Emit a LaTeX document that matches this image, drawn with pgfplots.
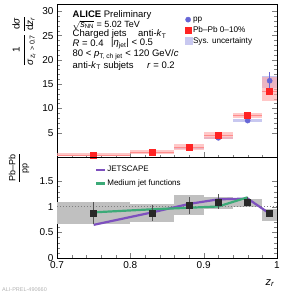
\documentclass[border=0pt]{standalone}
\usepackage{fontspec}
\setmainfont{Liberation Sans}
\usepackage{pgfplots}
\pgfplotsset{compat=1.18}
\definecolor{ppblue}{RGB}{102,102,214}
\definecolor{pbred}{RGB}{255,35,35}
\definecolor{redsys}{RGB}{255,170,170}
\definecolor{redbar}{RGB}{255,140,140}
\definecolor{bluesys}{RGB}{200,200,240}
\definecolor{graysys}{RGB}{192,192,192}
\definecolor{ptblack}{RGB}{40,40,40}
\definecolor{jspurple}{RGB}{125,80,190}
\definecolor{mjgreen}{RGB}{60,170,120}
\begin{document}
\begin{tikzpicture}[x=1pt,y=1pt]
\useasboundingbox (0,0) rectangle (284,293);
% ---------------- top panel ----------------
\begin{axis}[name=top, at={(57pt,136pt)}, anchor=south west, scale only axis,
  width=220pt, height=153pt, xmin=0.7, xmax=1, ymin=0, ymax=31.5,
  xtick={0.7,0.8,0.9,1}, xticklabels={}, minor x tick num=4,
  ytick={5,10,15,20,25,30}, minor y tick num=4,
  tick align=inside, xtick pos=bottom, ytick pos=both, yticklabel pos=left,
  major tick length=5pt, minor tick length=2.5pt,
  tick label style={font=\fontsize{10}{12}\selectfont},
  /pgf/number format/assume math mode=true,
  axis line style={line width=0.6pt},
  legend style={at={(0.58,0.925)}, anchor=north west, draw=none, fill=none,
    font=\fontsize{8.2}{9.5}\selectfont, row sep=1.6pt, inner sep=0pt,
    nodes={inner sep=1pt}},
  legend cell align=left,
  legend image code/.code={\draw[#1] plot coordinates {(0.15cm,0cm)};},
]
% pp systematic boxes
\addplot[fill=bluesys, draw=none, forget plot] coordinates {(0.70,0.30) (0.80,0.30) (0.80,0.50) (0.70,0.50)} -- cycle;
\addplot[fill=bluesys, draw=none, forget plot] coordinates {(0.80,0.75) (0.86,0.75) (0.86,1.05) (0.80,1.05)} -- cycle;
\addplot[fill=bluesys, draw=none, forget plot] coordinates {(0.86,1.70) (0.90,1.70) (0.90,2.00) (0.86,2.00)} -- cycle;
\addplot[fill=bluesys, draw=none, forget plot] coordinates {(0.90,3.70) (0.94,3.70) (0.94,4.20) (0.90,4.20)} -- cycle;
\addplot[fill=bluesys, draw=none, forget plot] coordinates {(0.94,7.20) (0.98,7.20) (0.98,7.80) (0.94,7.80)} -- cycle;
\addplot[fill=bluesys, draw=none, forget plot] coordinates {(0.98,14.2) (1.00,14.2) (1.00,16.6) (0.98,16.6)} -- cycle;
% Pb-Pb systematic boxes
\addplot[fill=redsys, fill opacity=0.65, draw=none, forget plot] coordinates {(0.70,0.20) (0.80,0.20) (0.80,0.75) (0.70,0.75)} -- cycle;
\addplot[fill=redsys, fill opacity=0.65, draw=none, forget plot] coordinates {(0.80,0.62) (0.86,0.62) (0.86,1.35) (0.80,1.35)} -- cycle;
\addplot[fill=redsys, fill opacity=0.65, draw=none, forget plot] coordinates {(0.86,1.50) (0.90,1.50) (0.90,2.65) (0.86,2.65)} -- cycle;
\addplot[fill=redsys, fill opacity=0.65, draw=none, forget plot] coordinates {(0.90,3.80) (0.94,3.80) (0.94,5.15) (0.90,5.15)} -- cycle;
\addplot[fill=redsys, fill opacity=0.65, draw=none, forget plot] coordinates {(0.94,8.10) (0.98,8.10) (0.98,9.15) (0.94,9.15)} -- cycle;
\addplot[fill=redsys, fill opacity=0.65, draw=none, forget plot] coordinates {(0.98,11.5) (1.00,11.5) (1.00,16.4) (0.98,16.4)} -- cycle;
% pp points
\addplot[only marks, mark=*, mark size=2.6pt, color=ppblue,
  error bars/.cd, y dir=both, y explicit, error mark=none,
  error bar style={line width=0.8pt, color=ppblue}]
  coordinates {(0.75,0.40) +- (0,0.05) (0.83,0.90) +- (0,0.08) (0.88,1.85) +- (0,0.12)
               (0.92,3.95) +- (0,0.2) (0.96,7.50) +- (0,0.35) (0.99,15.7) +- (0,1.7)};
\addlegendentry{pp}
% Pb-Pb points
\addplot[only marks, mark=square*, mark size=3pt, color=pbred,
  error bars/.cd, x dir=both, x explicit, y dir=both, y explicit, error mark=none,
  error bar style={line width=0.6pt, color=redbar}]
  coordinates {(0.75,0.45) +- (0.05,0.05) (0.83,0.95) +- (0.03,0.08) (0.88,2.05) +- (0.02,0.12)
               (0.92,4.45) +- (0.02,0.2) (0.96,8.60) +- (0.02,0.3) (0.99,13.6) +- (0.01,0.4)};
\addlegendentry{Pb\textendash Pb 0\textendash 10\%}
\addlegendimage{legend image code/.code={\fill[bluesys] (0.04cm,-0.12cm) rectangle (0.28cm,0.12cm);}}
\addlegendentry{Sys. uncertainty}
\end{axis}
% ---------------- bottom panel ----------------
\begin{axis}[name=bot, at={(57pt,35pt)}, anchor=south west, scale only axis,
  width=220pt, height=101pt, xmin=0.7, xmax=1, ymin=0, ymax=1.98,
  xtick={0.7,0.8,0.9,1}, xticklabels={0.7,0.8,0.9,1}, minor x tick num=4,
  ytick={0,0.5,1,1.5}, yticklabels={0,0.5,1,1.5}, minor y tick num=4,
  tick align=inside, xtick pos=bottom, ytick pos=both, yticklabel pos=left,
  major tick length=5pt, minor tick length=2.5pt,
  tick label style={font=\fontsize{10}{12}\selectfont},
  /pgf/number format/assume math mode=true,
  axis line style={line width=0.6pt},
  legend style={at={(0.172,0.92)}, anchor=north west, draw=none, fill=none,
    font=\fontsize{8}{9.5}\selectfont, row sep=4.5pt, inner sep=0pt,
    nodes={inner sep=1pt}},
  legend cell align=left,
  legend image code/.code={\draw[#1] (0cm,0cm) -- (0.32cm,0cm);},
]
\addplot[fill=graysys, draw=none, forget plot] coordinates {(0.70,0.67) (0.80,0.67) (0.80,1.10) (0.70,1.10)} -- cycle;
\addplot[fill=graysys, draw=none, forget plot] coordinates {(0.80,0.70) (0.86,0.70) (0.86,1.06) (0.80,1.06)} -- cycle;
\addplot[fill=graysys, draw=none, forget plot] coordinates {(0.86,0.84) (0.90,0.84) (0.90,1.23) (0.86,1.23)} -- cycle;
\addplot[fill=graysys, draw=none, forget plot] coordinates {(0.90,0.96) (0.94,0.96) (0.94,1.205) (0.90,1.205)} -- cycle;
\addplot[fill=graysys, draw=none, forget plot] coordinates {(0.94,0.99) (0.98,0.99) (0.98,1.15) (0.94,1.15)} -- cycle;
\addplot[fill=graysys, draw=none, forget plot] coordinates {(0.98,0.72) (1.00,0.72) (1.00,0.97) (0.98,0.97)} -- cycle;
\addplot[gray, dotted, line width=1pt, forget plot] coordinates {(0.7,1) (1,1)};
\addplot[jspurple, line width=2.2pt] coordinates {(0.75,0.65) (0.83,0.895) (0.88,1.06) (0.92,1.15) (0.96,1.165) (0.99,0.87)};
\addlegendentry{JETSCAPE}
\addplot[mjgreen, line width=2.2pt] coordinates {(0.75,0.895) (0.83,0.955) (0.88,0.985) (0.92,1.01) (0.96,1.19)};
\addlegendentry{Medium jet functions}
\addplot[only marks, mark=square*, mark size=3pt, color=ptblack, forget plot,
  error bars/.cd, y dir=both, y explicit, error mark=none,
  error bar style={line width=0.8pt, color=ptblack!80}]
  coordinates {(0.75,0.88) +- (0,0.21) (0.83,0.88) +- (0,0.16) (0.88,1.03) +- (0,0.16)
               (0.92,1.10) +- (0,0.145) (0.96,1.10) +- (0,0.09) (0.99,0.87) +- (0,0.07)};
\end{axis}
% ---------------- text ----------------
\begin{scope}[every node/.style={anchor=west, inner sep=0pt, font=\fontsize{9.5}{11}\selectfont}]
\node at (72.5,278.3) {\textbf{ALICE} Preliminary};
\node[font=\fontsize{9}{10}\selectfont] at (72.5,268) {$\sqrt{\mbox{\textit{s}\textsubscript{NN}}}$ = 5.02 TeV};
\node at (72.5,258.8) {Charged jets};
\node at (138,258.8) {anti-\textit{k}\textsubscript{T}};
\node at (72.5,249.3) {\textit{R} = 0.4};
\node at (111,249.3) {|\textit{η}\textsubscript{jet}| < 0.5};
\node at (72.5,238) {80 < \textit{p}\textsubscript{T, ch jet} < 120 GeV/\textit{c}};
\node at (72.5,227.3) {anti-\textit{k}\textsubscript{T} subjets};
\node at (147,227.3) {\textit{r} = 0.2};
\end{scope}
\node[rotate=90, inner sep=0pt, font=\fontsize{10}{12}\selectfont] at (24,252)
  {$\displaystyle\frac{\mbox{1}}{\mbox{\textit{σ}\textsubscript{\textit{z}\textsubscript{\textit{r}} > 0.7}}}\,\frac{\mbox{d\textit{σ}}}{\mbox{d\textit{z}\textsubscript{\textit{r}}}}$};
\node[rotate=90, inner sep=0pt, font=\fontsize{9}{11}\selectfont] at (19,125)
  {$\displaystyle\frac{\mbox{Pb\textendash Pb}}{\mbox{pp}}$};
\node[inner sep=0pt, font=\fontsize{11}{13}\selectfont] at (270,10) {\textit{z}\textsubscript{\textit{r}}};
\node[anchor=west, inner sep=0pt, text=gray!60, font=\fontsize{5.5}{6}\selectfont] at (2,3) {ALI-PREL-490660};
\end{tikzpicture}
\end{document}
